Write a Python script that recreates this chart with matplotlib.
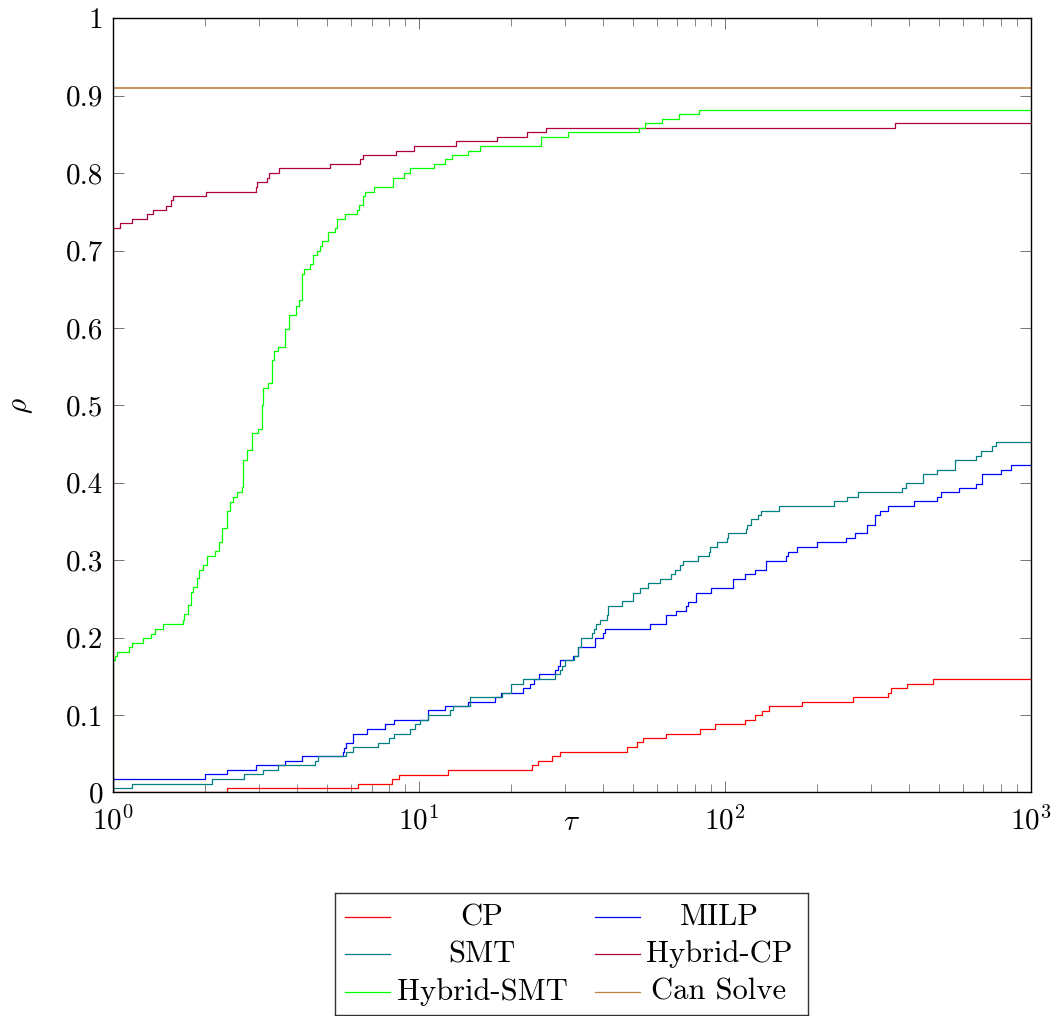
"""
Performance profile: fraction of instances solved within factor tau
"""

import numpy as np
import matplotlib
matplotlib.use('Agg')
import matplotlib.pyplot as plt
from matplotlib.ticker import FuncFormatter, FixedLocator

plt.rcParams['font.family'] = 'cmr10'
plt.rcParams['mathtext.fontset'] = 'cm'
plt.rcParams['axes.formatter.use_mathtext'] = True

# step curves (tau, rho)
cp_tau = [1, 2.355, 6.345, 8.16, 8.58, 12.44, 23.43, 24.43, 27.3, 28.84,
          47.9, 51.7, 53.9, 64.4, 83.2, 92.7, 116.2, 125.9, 132.4, 139.9,
          178.1, 262.0, 341.2, 348.2, 394.8, 480.1]
cp_rho = [0, 0.0056, 0.0112, 0.0168, 0.0229, 0.0288, 0.0349, 0.0413, 0.0465, 0.0525,
          0.0585, 0.0646, 0.0702, 0.0758, 0.0823, 0.0882, 0.0939, 0.0999, 0.1055, 0.1115,
          0.1172, 0.1232, 0.1288, 0.1353, 0.1404, 0.1469]

milp_tau = [1, 2.0, 2.355, 2.93, 3.653, 4.143, 5.667, 5.709, 5.77, 6.11,
            6.79, 7.76, 8.32, 10.70, 12.19, 14.47, 17.68, 18.59, 21.89, 23.13,
            23.71, 24.75, 27.77, 28.41, 28.84, 31.9, 33.03, 37.74, 39.87, 40.48,
            56.8, 64.4, 69.45, 74.9, 75.86, 80.75, 90.4, 106.5, 116.8, 125.0,
            136.5, 157.9, 161.1, 171.5, 199.4, 248.0, 265.5, 290.5, 308.6, 321.1,
            341.2, 414.9, 492.3, 510.0, 582.3, 663.7, 694.5, 797.0, 864.1]
milp_rho = [0.0168, 0.0233, 0.029, 0.035, 0.041, 0.0465, 0.052, 0.058, 0.064, 0.0758,
            0.0818, 0.0879, 0.0939, 0.106, 0.112, 0.117, 0.123, 0.129, 0.135, 0.140,
            0.1463, 0.1525, 0.1585, 0.164, 0.1705, 0.176, 0.1877, 0.200, 0.206, 0.211,
            0.217, 0.2287, 0.234, 0.241, 0.2459, 0.258, 0.264, 0.276, 0.282, 0.288,
            0.299, 0.305, 0.311, 0.317, 0.323, 0.329, 0.335, 0.346, 0.358, 0.364,
            0.370, 0.376, 0.382, 0.388, 0.393, 0.399, 0.411, 0.417, 0.423]

smt_tau = [1, 1.157, 2.113, 2.689, 3.103, 3.473, 4.579, 4.695, 5.783, 6.11,
           7.375, 7.954, 8.26, 9.366, 9.725, 10.05, 10.70, 12.59, 12.92, 14.64,
           18.69, 20.0, 21.89, 27.92, 29.0, 29.37, 30.11, 32.21, 33.12, 33.96,
           36.81, 37.25, 38.02, 39.18, 41.21, 41.52, 46.13, 50.12, 52.96, 56.23,
           61.24, 66.89, 68.93, 71.57, 73.04, 81.78, 88.6, 89.74, 94.37, 101.7,
           102.5, 117.4, 118.3, 121.3, 128.5, 130.8, 150.1, 227.1, 249.9, 272.1,
           380.2, 389.8, 445.4, 492.3, 563.8, 660.4, 685.7, 748.9, 767.8]
smt_rho = [0.0056, 0.0112, 0.0168, 0.0233, 0.029, 0.035, 0.0405, 0.0465, 0.052, 0.0585,
           0.064, 0.070, 0.0758, 0.0818, 0.0879, 0.0939, 0.0995, 0.106, 0.112, 0.123,
           0.129, 0.140, 0.146, 0.1525, 0.158, 0.164, 0.1705, 0.176, 0.1877, 0.200,
           0.206, 0.211, 0.217, 0.223, 0.2287, 0.2407, 0.2468, 0.258, 0.2644, 0.270,
           0.276, 0.282, 0.288, 0.2937, 0.299, 0.305, 0.311, 0.317, 0.323, 0.329,
           0.335, 0.340, 0.346, 0.3527, 0.358, 0.364, 0.370, 0.376, 0.382, 0.3876,
           0.3937, 0.3995, 0.4115, 0.417, 0.429, 0.435, 0.4407, 0.447, 0.4525]

hcp_tau = [1, 1.054, 1.151, 1.289, 1.355, 1.491, 1.544, 1.575, 2.015, 2.937,
           2.965, 3.183, 3.238, 3.49, 5.13, 6.43, 6.56, 8.41, 9.63, 13.2,
           18.0, 22.5, 26.1, 361]
hcp_rho = [0.729, 0.736, 0.741, 0.747, 0.753, 0.758, 0.765, 0.771, 0.776, 0.782,
           0.788, 0.794, 0.800, 0.806, 0.812, 0.818, 0.823, 0.829, 0.835, 0.841,
           0.847, 0.853, 0.858, 0.865]

hsmt_tau = [1, 1.015, 1.028, 1.131, 1.151, 1.251, 1.328, 1.375, 1.460, 1.690,
            1.707, 1.764, 1.796, 1.823, 1.878, 1.916, 1.965, 2.025, 2.157, 2.227,
            2.268, 2.355, 2.414, 2.475, 2.539, 2.636, 2.668, 2.737, 2.843, 2.988,
            3.065, 3.103, 3.206, 3.304, 3.362, 3.473, 3.653, 3.765, 3.968, 4.068,
            4.143, 4.215, 4.410, 4.501, 4.638, 4.755, 4.817, 5.063, 5.324, 5.417,
            5.741, 6.297, 6.393, 6.588, 6.688, 7.143, 8.222, 8.904, 9.366, 11.16,
            12.19, 12.82, 14.47, 15.79, 25.07, 30.72, 52.3, 55.0, 62.4, 71.0,
            82.6]
hsmt_rho = [0.1705, 0.1757, 0.181, 0.1877, 0.193, 0.200, 0.2046, 0.211, 0.217, 0.223,
            0.230, 0.2416, 0.259, 0.265, 0.277, 0.288, 0.294, 0.306, 0.312, 0.323,
            0.341, 0.364, 0.375, 0.382, 0.388, 0.394, 0.429, 0.442, 0.464, 0.470,
            0.500, 0.523, 0.529, 0.558, 0.570, 0.576, 0.599, 0.617, 0.629, 0.636,
            0.670, 0.676, 0.682, 0.694, 0.700, 0.706, 0.712, 0.724, 0.729, 0.741,
            0.747, 0.753, 0.759, 0.770, 0.776, 0.782, 0.794, 0.800, 0.806, 0.812,
            0.818, 0.824, 0.829, 0.835, 0.847, 0.853, 0.858, 0.865, 0.870, 0.876,
            0.882]

can_solve = 0.91
tau_max = 1000

series = [
    ('CP', cp_tau, cp_rho, '#ff0000'),
    ('MILP', milp_tau, milp_rho, '#0000ff'),
    ('SMT', smt_tau, smt_rho, '#008080'),
    ('Hybrid-CP', hcp_tau, hcp_rho, '#b00045'),
    ('Hybrid-SMT', hsmt_tau, hsmt_rho, '#00ff00'),
]
can_color = '#bf8040'

fig = plt.figure(figsize=(10.57, 10.16), dpi=100)
ax = fig.add_axes([0.1069, 0.22, 0.8683, 0.762])

lw = 0.9
for name, tau, rho, col in series:
    x = np.r_[1, tau, tau_max]
    y = np.r_[0, rho, rho[-1]]
    ax.step(x, y, where='post', color=col, lw=lw)
ax.plot([1, tau_max], [can_solve, can_solve], color=can_color, lw=1.2)

ax.set_xscale('log')
ax.set_xlim(1, tau_max)
ax.set_ylim(0, 1)
ax.yaxis.set_major_locator(FixedLocator(np.arange(0, 1.01, 0.1)))
ax.yaxis.set_major_formatter(FuncFormatter(lambda v, _: '%g' % round(v, 1)))

ax.tick_params(which='both', direction='in', top=True, right=True,
               color='0.45', labelsize=21)
ax.tick_params(which='major', length=8, width=0.7)
ax.tick_params(which='minor', length=5.5, width=0.6)
ax.tick_params(axis='y', which='major', pad=7)
ax.tick_params(axis='x', which='major', pad=10)
for sp in ax.spines.values():
    sp.set_linewidth(1.0)

ax.set_xlabel(r'$\tau$', fontsize=21)
ax.set_ylabel(r'$\rho$', fontsize=21)
ax.xaxis.set_label_coords(0.5, -0.039)
ax.xaxis.label.set_va('center')
ax.yaxis.set_label_coords(-0.099, 0.5)
ax.yaxis.label.set_va('center')

# legend box drawn by hand so text is centred as in the original
lg = fig.add_axes([0.3169, 0.001, 0.4475, 0.1201])
lg.set_xlim(0, 1)
lg.set_ylim(0, 1)
lg.set_xticks([])
lg.set_yticks([])
for sp in lg.spines.values():
    sp.set_linewidth(1.0)
    sp.set_color('0.2')

entries = [('CP', '#ff0000'), ('MILP', '#0000ff'),
           ('SMT', '#008080'), ('Hybrid-CP', '#b00045'),
           ('Hybrid-SMT', '#00ff00'), ('Can Solve', can_color)]
rows = [0.80, 0.496, 0.187]
cols = [(0.021, 0.116, 0.311), (0.55, 0.645, 0.812)]
for i, (name, col) in enumerate(entries):
    r = rows[i // 2]
    x0, x1, xc = cols[i % 2]
    lg.plot([x0, x1], [r, r], color=col, lw=lw)
    lg.text(xc, r, name, ha='center', va='center', fontsize=22)

fig.savefig('out.png', dpi=100)
